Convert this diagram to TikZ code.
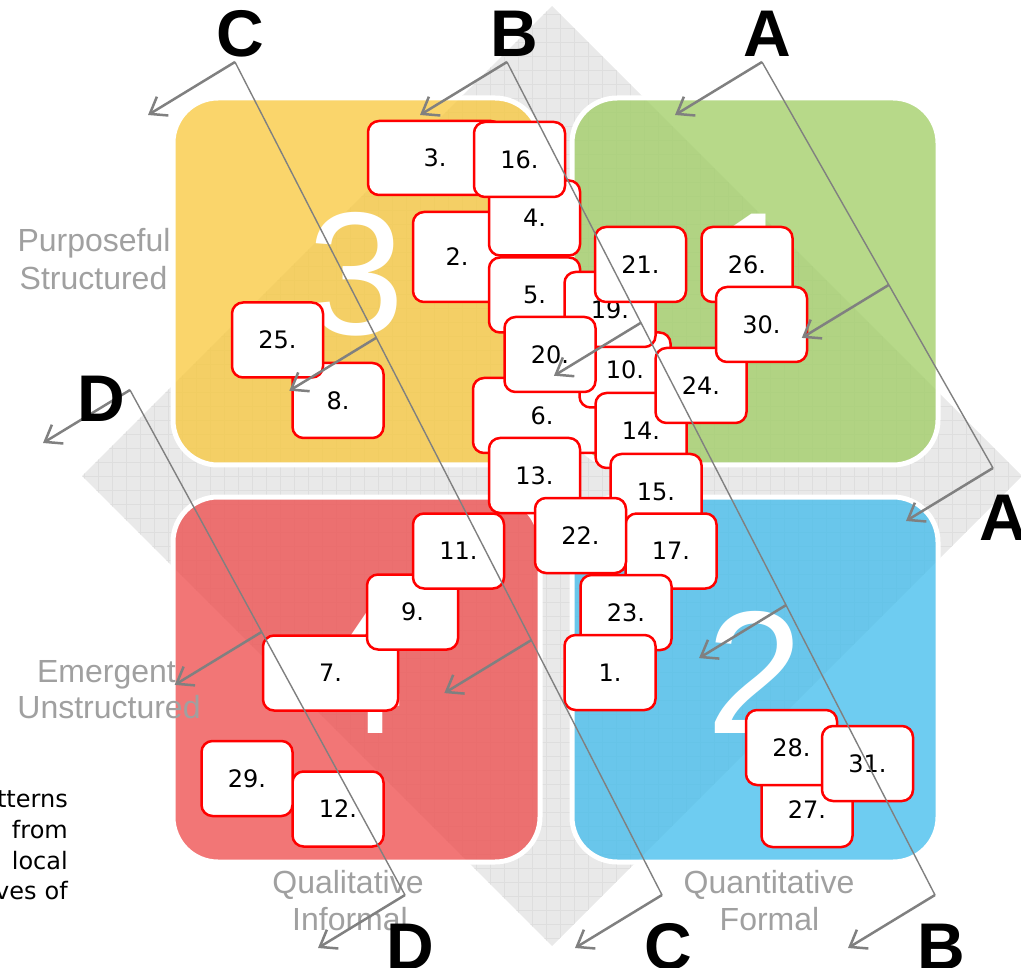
\documentclass[tikz,border=0pt]{standalone}
\usepackage{fontspec}
\setmainfont{DejaVu Sans}
\newfontfamily\labelfont{Liberation Sans}
\newfontfamily\boxfont{DejaVu Sans}
\usetikzlibrary{calc,arrows.meta}

\definecolor{diamondgray}{RGB}{233,233,233}
\definecolor{gridgray}{RGB}{222,222,222}
\definecolor{qyellow}{RGB}{248,200,60}
\definecolor{qgreen}{RGB}{160,205,100}
\definecolor{qred}{RGB}{238,75,75}
\definecolor{qblue}{RGB}{65,188,236}
\definecolor{labelgray}{RGB}{160,160,160}
\definecolor{linegray}{RGB}{128,128,128}
\definecolor{boxred}{RGB}{255,0,0}

\begin{document}
\begin{tikzpicture}[x=1pt,y=-1pt,
  quadrant/.style={draw=white, line width=5pt, rounded corners=45pt, fill opacity=0.76},
  numeral/.style={text=white, font=\labelfont\fontsize{175}{175}\selectfont, inner sep=0pt, anchor=base},
  axislabel/.style={text=labelgray, font=\labelfont\fontsize{32}{36}\selectfont, inner sep=0pt, anchor=base},
  item/.style={draw=boxred, fill=white, line width=2.5pt, rounded corners=11pt,
    minimum width=91pt, minimum height=75pt, inner sep=0pt, text depth=0pt,
    font=\boxfont\fontsize{24}{28}\selectfont},
  bracketline/.style={draw=linegray, line width=1.4pt},
  pointer/.style={draw=linegray, line width=2.5pt, -{Straight Barb[length=15pt,width=22pt]}},
  letter/.style={font=\labelfont\bfseries\fontsize{66}{66}\selectfont, inner sep=0pt, anchor=base},
  note/.style={font=\fontsize{24}{28}\selectfont, inner sep=0pt, anchor=base east}
]
\useasboundingbox (0,0) rectangle (1021,968);

% grey diamond behind the matrix
\path[fill=diamondgray] (552,6) -- (1022,476) -- (552,946) -- (82,476) -- cycle;
\begin{scope}
  \clip (552,6) -- (1022,476) -- (552,946) -- (82,476) -- cycle;
  \draw[gridgray, line width=0.7pt] (80,0) grid[step=14pt] (1030,950);
\end{scope}

% the four quadrants
\path[quadrant, fill=qyellow] (173,98) rectangle (540,465);
\path[quadrant, fill=qgreen]  (572,98) rectangle (938,465);
\path[quadrant, fill=qred]    (173,497) rectangle (540,862);
\path[quadrant, fill=qblue]   (572,497) rectangle (938,862);

% quadrant numerals
\node[numeral] (num3) at (356.5,335) {3};
\node[numeral] (num1) at (755,335) {1};
\node[numeral] (num4) at (356.5,733) {4};
\node[numeral] (num2) at (755,733) {2};

% axis labels
\node[axislabel] (lp1) at (94,252) {Purposeful};
\node[axislabel] (lp2) at (93.5,290) {Structured};
\node[axislabel] (le1) at (106.5,682) {Emergent};
\node[axislabel] (le2) at (109,718) {Unstructured};
\node[axislabel] (lq1) at (348,893) {Qualitative};
\node[axislabel] (lq2) at (350,930) {Informal};
\node[axislabel] (ln1) at (769,893) {Quantitative};
\node[axislabel] (ln2) at (769.5,930) {Formal};

% side note
\node[note] (t1) at (68,807) {tterns};
\node[note] (t2) at (68,838) {from};
\node[note] (t3) at (68,869) {local};
\node[note] (t4) at (68,899) {ves\hspace{8pt}of};

% numbered items
\node[item, minimum width=88pt, minimum height=90pt] (n2) at (457,257) {2.};
\node[item, minimum width=134pt, minimum height=74pt] (n3) at (435,158) {3.};
\node[item] (n4) at (534.5,218) {4.};
\node[item] (n5) at (534.5,295) {5.};
\node[item, minimum width=138pt] (n6) at (542,415.5) {6.};
\node[item, minimum width=135pt] (n7) at (330.5,673) {7.};
\node[item] (n8) at (338,400.5) {8.};
\node[item] (n9) at (412.5,612) {9.};
\node[item] (n10) at (625,370) {10.};
\node[item] (n11) at (458.5,551) {11.};
\node[item] (n12) at (338,809) {12.};
\node[item] (n13) at (534.5,475.5) {13.};
\node[item] (n14) at (641,430.5) {14.};
\node[item] (n15) at (656,491.5) {15.};
\node[item] (n16) at (519.5,159.5) {16.};
\node[item] (n17) at (671,551) {17.};
\node[item] (n19) at (610,309.5) {19.};
\node[item] (n20) at (550,354.5) {20.};
\node[item] (n21) at (640.5,264.5) {21.};
\node[item] (n22) at (580.5,535.5) {22.};
\node[item] (n23) at (626,612.5) {23.};
\node[item] (n1) at (610,672.5) {1.};
\node[item] (n24) at (701,385.5) {24.};
\node[item] (n25) at (277.5,340) {25.};
\node[item] (n26) at (747,264.5) {26.};
\node[item] (n27) at (807,809.5) {27.};
\node[item] (n28) at (791.5,747.5) {28.};
\node[item] (n29) at (247,778.5) {29.};
\node[item] (n30) at (761.5,324.5) {30.};
\node[item] (n31) at (867.5,763.5) {31.};

% bracket ends
\coordinate (At) at (762,62);  \coordinate (Ab) at (993,468);
\coordinate (Bt) at (507,62);  \coordinate (Bb) at (935,895);
\coordinate (Ct) at (235,62);  \coordinate (Cb) at (662,895);
\coordinate (Dt) at (130,390); \coordinate (Db) at (405,895);

% points where the inner pointers leave the brackets
\coordinate (Am) at ($(At)!0.549!(Ab)$);
\coordinate (Bm1) at ($(Bt)!0.313!(Bb)$);
\coordinate (Bm2) at ($(Bt)!0.652!(Bb)$);
\coordinate (Cm1) at ($(Ct)!0.331!(Cb)$);
\coordinate (Cm2) at ($(Ct)!0.694!(Cb)$);
\coordinate (Dm) at ($(Dt)!0.479!(Db)$);

% pointer tips
\foreach \p in {At,Ab,Am,Bt,Bb,Bm1,Bm2,Ct,Cb,Cm1,Cm2,Dt,Db,Dm}
  \coordinate (\p tip) at ($(\p)+(-87,53)$);

% brackets
\draw[bracketline] (At) -- (Ab);
\draw[bracketline] (Bt) -- (Bb);
\draw[bracketline] (Ct) -- (Cb);
\draw[bracketline] (Dt) -- (Db);

% pointers
\foreach \p in {At,Ab,Am,Bt,Bb,Bm1,Bm2,Ct,Cb,Cm1,Cm2,Dt,Db,Dm}
  \draw[pointer] (\p) -- (\p tip);

% bracket letters
\node[letter] (LCt) at (240,57) {C};
\node[letter] (LBt) at (514,57) {B};
\node[letter] (LAt) at (767,57) {A};
\node[letter] (LAr) at (1003,540) {A};
\node[letter] (LDl) at (101,422) {D};
\node[letter] (LDb) at (410,969) {D};
\node[letter] (LCb) at (668,969) {C};
\node[letter] (LBb) at (941,969) {B};
\end{tikzpicture}
\end{document}
